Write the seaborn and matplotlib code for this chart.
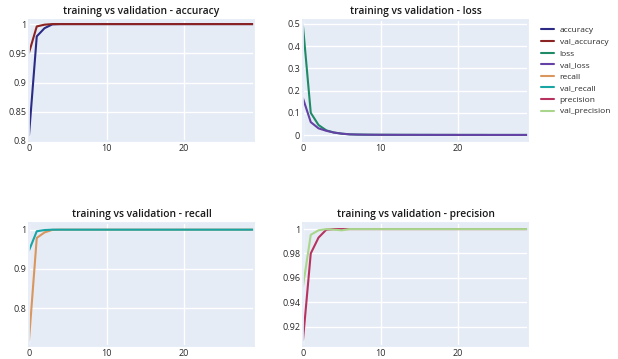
import matplotlib
matplotlib.use("Agg")
import matplotlib.pyplot as plt
import seaborn as sns
import pandas as pd

# Training history (30 epochs)
epochs = list(range(30))

accuracy = [0.810, 0.979, 0.993, 0.9995, 1.0, 1.0, 1.0, 1.0, 1.0, 1.0,
            1.0, 1.0, 1.0, 1.0, 1.0, 1.0, 1.0, 1.0, 1.0, 1.0,
            1.0, 1.0, 1.0, 1.0, 1.0, 1.0, 1.0, 1.0, 1.0, 1.0]
val_accuracy = [0.951, 0.996, 0.999, 1.0, 1.0, 1.0, 1.0, 1.0, 1.0, 1.0,
                1.0, 1.0, 1.0, 1.0, 1.0, 1.0, 1.0, 1.0, 1.0, 1.0,
                1.0, 1.0, 1.0, 1.0, 1.0, 1.0, 1.0, 1.0, 1.0, 1.0]
loss = [0.490, 0.100, 0.045, 0.021, 0.011, 0.006, 0.003, 0.002, 0.0015, 0.0012,
        0.0010, 0.0009, 0.0008, 0.0007, 0.0007, 0.0006, 0.0006, 0.0005, 0.0005, 0.0005,
        0.0004, 0.0004, 0.0004, 0.0004, 0.0003, 0.0003, 0.0003, 0.0003, 0.0003, 0.0003]
val_loss = [0.165, 0.058, 0.030, 0.019, 0.011, 0.006, 0.003, 0.002, 0.0015, 0.0012,
            0.0010, 0.0009, 0.0008, 0.0007, 0.0007, 0.0006, 0.0006, 0.0005, 0.0005, 0.0005,
            0.0004, 0.0004, 0.0004, 0.0004, 0.0003, 0.0003, 0.0003, 0.0003, 0.0003, 0.0003]
recall = [0.719, 0.979, 0.993, 0.9995, 1.0, 1.0, 1.0, 1.0, 1.0, 1.0,
          1.0, 1.0, 1.0, 1.0, 1.0, 1.0, 1.0, 1.0, 1.0, 1.0,
          1.0, 1.0, 1.0, 1.0, 1.0, 1.0, 1.0, 1.0, 1.0, 1.0]
val_recall = [0.947, 0.996, 0.999, 1.0, 1.0, 1.0, 1.0, 1.0, 1.0, 1.0,
              1.0, 1.0, 1.0, 1.0, 1.0, 1.0, 1.0, 1.0, 1.0, 1.0,
              1.0, 1.0, 1.0, 1.0, 1.0, 1.0, 1.0, 1.0, 1.0, 1.0]
precision = [0.909, 0.980, 0.993, 0.9995, 1.0, 1.0, 1.0, 1.0, 1.0, 1.0,
             1.0, 1.0, 1.0, 1.0, 1.0, 1.0, 1.0, 1.0, 1.0, 1.0,
             1.0, 1.0, 1.0, 1.0, 1.0, 1.0, 1.0, 1.0, 1.0, 1.0]
val_precision = [0.953, 0.9953, 0.999, 1.0, 0.9995, 0.999, 1.0, 1.0, 1.0, 1.0,
                 1.0, 1.0, 1.0, 1.0, 1.0, 1.0, 1.0, 1.0, 1.0, 1.0,
                 1.0, 1.0, 1.0, 1.0, 1.0, 1.0, 1.0, 1.0, 1.0, 1.0]

series = {
    "accuracy": accuracy, "val_accuracy": val_accuracy,
    "loss": loss, "val_loss": val_loss,
    "recall": recall, "val_recall": val_recall,
    "precision": precision, "val_precision": val_precision,
}
colors = {
    "accuracy": "#2b2b86", "val_accuracy": "#8c2323",
    "loss": "#1f8a66", "val_loss": "#6441a4",
    "recall": "#d9965e", "val_recall": "#1aa5a5",
    "precision": "#b8325f", "val_precision": "#a9d68c",
}

df = pd.DataFrame(
    [(e, name, v) for name, vals in series.items() for e, v in zip(epochs, vals)],
    columns=["epoch", "metric", "value"],
)

sns.set_theme(style="darkgrid", rc={
    "axes.facecolor": "#E5ECF6",
    "grid.color": "white",
    "grid.linewidth": 1.0,
    "axes.edgecolor": "#E5ECF6",
})
plt.rcParams["font.family"] = ["Open Sans", "DejaVu Sans"]

fig = plt.figure(figsize=(6.18, 3.59), dpi=100)
W, H = 618, 359

def add_ax(x0, y0, x1, y1):
    return fig.add_axes([x0 / W, 1 - y1 / H, (x1 - x0) / W, (y1 - y0) / H])

panels = [
    ("accuracy", add_ax(29, 20, 254, 141), (0.8, 1.007), [0.8, 0.85, 0.9, 0.95, 1.0], ["0.8", "0.85", "0.9", "0.95", "1"]),
    ("loss", add_ax(303, 20, 528, 141), (-0.027, 0.518), [0, 0.1, 0.2, 0.3, 0.4, 0.5], ["0", "0.1", "0.2", "0.3", "0.4", "0.5"]),
    ("recall", add_ax(29, 223, 254, 346), (0.704, 1.017), [0.8, 0.9, 1.0], ["0.8", "0.9", "1"]),
    ("precision", add_ax(303, 223, 528, 346), (0.904, 1.005), [0.92, 0.94, 0.96, 0.98, 1.0], ["0.92", "0.94", "0.96", "0.98", "1"]),
]

text_color = "#2a2a2a"
handles = {}
for metric, ax, ylim, yticks, ylabels in panels:
    sub = df[df["metric"].isin([metric, "val_" + metric])]
    sns.lineplot(data=sub, x="epoch", y="value", hue="metric",
                 palette=colors, linewidth=1.5, ax=ax, legend=False)
    for line, name in zip(ax.get_lines(), [metric, "val_" + metric]):
        handles[name] = line
    ax.set_xlim(0, 29)
    ax.set_ylim(*ylim)
    ax.set_xticks([0, 10, 20])
    ax.set_yticks(yticks)
    ax.set_yticklabels(ylabels)
    ax.set_xlabel("")
    ax.set_ylabel("")
    ax.tick_params(axis="both", labelsize=6.5, colors=text_color, pad=2, length=0)
    ax.set_title(f"training vs validation - {metric}", fontsize=7.4,
                 fontweight="semibold", color="#1a1a1a", pad=4)

order = ["accuracy", "val_accuracy", "loss", "val_loss",
         "recall", "val_recall", "precision", "val_precision"]
fig.legend([handles[n] for n in order], order, loc="upper left",
           bbox_to_anchor=(533 / W, 1 - 19 / H), frameon=False,
           fontsize=6, handlelength=1.6, handletextpad=0.7,
           labelspacing=0.45, labelcolor=text_color)

fig.savefig("out.png", dpi=100)
